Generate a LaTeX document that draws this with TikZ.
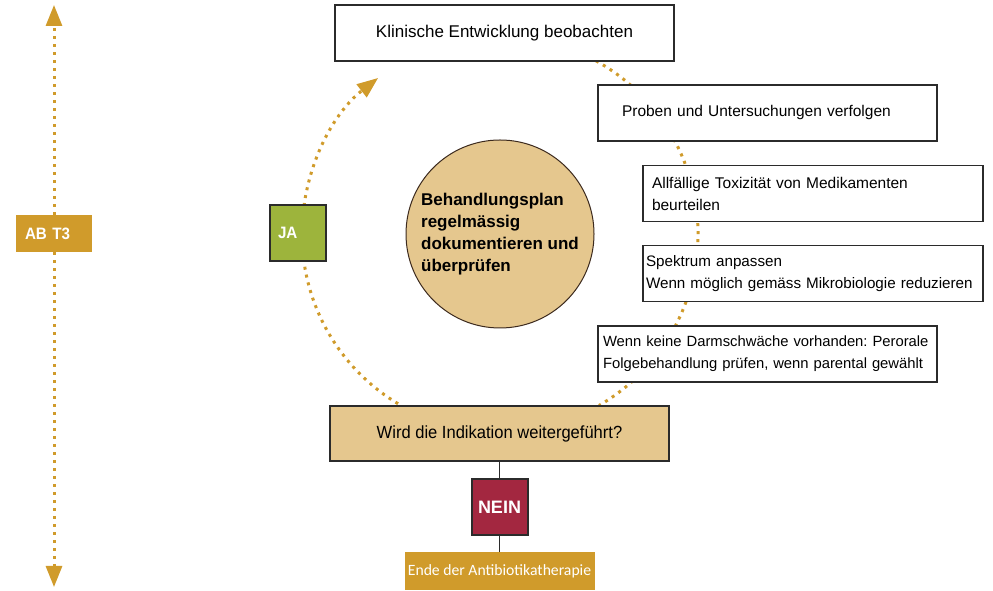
\documentclass[tikz,border=0pt]{standalone}
\usepackage{fontspec}
\setmainfont{Liberation Sans}
\newfontfamily\narrowfont{Liberation Sans}[FakeStretch=0.94]
\newfontfamily\condfont{Liberation Sans}[FakeStretch=0.92]
\newfontfamily\calfont{Carlito}
\usepackage{xcolor}
\usetikzlibrary{arrows.meta, positioning}
\definecolor{gold}{HTML}{D09B2B}
\definecolor{sand}{HTML}{E5C78E}
\definecolor{jagreen}{HTML}{9DB43C}
\definecolor{neinred}{HTML}{A32740}
\definecolor{edge}{HTML}{2B2B2B}
\definecolor{rim}{HTML}{3C2A1E}
\hyphenpenalty=10000
\frenchspacing

\begin{document}
\begin{tikzpicture}[x=1pt,y=1pt,
		>={Triangle[length=21pt,width=16pt]},
		dotarc/.style={draw=gold,line width=3pt,dash pattern=on 3pt off 5pt},
		box/.style={draw=edge,line width=1.5pt,fill=white,rectangle,minimum width=339pt,minimum height=56pt,inner sep=0pt,align=left,font=\fontsize{15.5}{22}\selectfont},
		tag/.style={text=white,inner sep=0pt,align=left,font=\condfont\bfseries\fontsize{16.5}{19}\selectfont},
		link/.style={draw=edge,line width=1pt}
		]
		\useasboundingbox (0,0) rectangle (993,591);
		\coordinate (ctr) at (500,357);
		% dotted cycle behind the boxes
		\draw [dotarc] ([shift={(61:198)}]ctr) arc[start angle=61,end angle=-60,radius=198];
		\draw [dotarc,->] ([shift={(239:198)}]ctr) arc[start angle=239,end angle=128,radius=198];
		
		\node (kli) [box,align=center,font=\fontsize{17}{22}\selectfont] at (504.5,558) {Klinische Entwicklung beobachten};
		\node (pro) [box,text width=291pt] at (767.5,478) {Proben und Untersuchungen verfolgen};
		\node (tox) [box,minimum width=340pt,text width=322pt] at (813,397.5) {Allfällige Toxizität von Medikamenten\\beurteilen};
		\node (spk) [box,minimum width=340pt,text width=334pt,font=\fontsize{15.2}{22}\selectfont] at (813,317.5) {Spektrum anpassen\\Wenn möglich gemäss Mikrobiologie reduzieren};
		\node (oral) [box,text width=329pt,font=\fontsize{14.8}{22}\selectfont] at (767.5,237) {Wenn keine Darmschwäche vorhanden: Perorale\\Folgebehandlung prüfen, wenn parental gewählt};
		\node (plan) [circle,draw=rim,line width=1pt,fill=sand,minimum size=188pt,inner sep=0pt,align=left,font=\bfseries\fontsize{17}{22}\selectfont] at (ctr) {Behandlungsplan\\regelmässig\\dokumentieren und\\überprüfen};
		
		\node (wird) [box,fill=sand,line width=2pt,minimum height=55pt,align=center,font=\narrowfont\fontsize{17.6}{22}\selectfont] at (499.5,157.5) {Wird die Indikation weitergeführt?};
		\node (nein) [below=16pt of wird,draw=edge,line width=2pt,fill=neinred,minimum size=56pt,inner sep=0pt,text=white,font=\bfseries\fontsize{18}{20}\selectfont] {NEIN};
		\node (ende) [below=16pt of nein,fill=gold,minimum width=190pt,minimum height=38pt,inner sep=0pt,text=white,font=\calfont\fontsize{15.7}{18}\selectfont] {Ende der Antibiotikatherapie};
		\draw [link] (wird) -- (nein);
		\draw [link] (nein) -- (ende);
		
		\node (ja) [tag,draw=edge,line width=2pt,fill=jagreen,minimum size=56pt,text width=40pt] at (298,358) {JA};
		
		% time axis
		\node (abt3) [tag,fill=gold,minimum width=76pt,minimum height=37pt,text width=58pt] at (54,357.5) {AB T3};
		\coordinate (tTop) at (54,586);
		\coordinate (tBot) at (54,4);
		\draw [dotarc,->] (abt3) -- (tTop);
		\draw [dotarc,->] (abt3) -- (tBot);
	
	\end{tikzpicture}
\end{document}
